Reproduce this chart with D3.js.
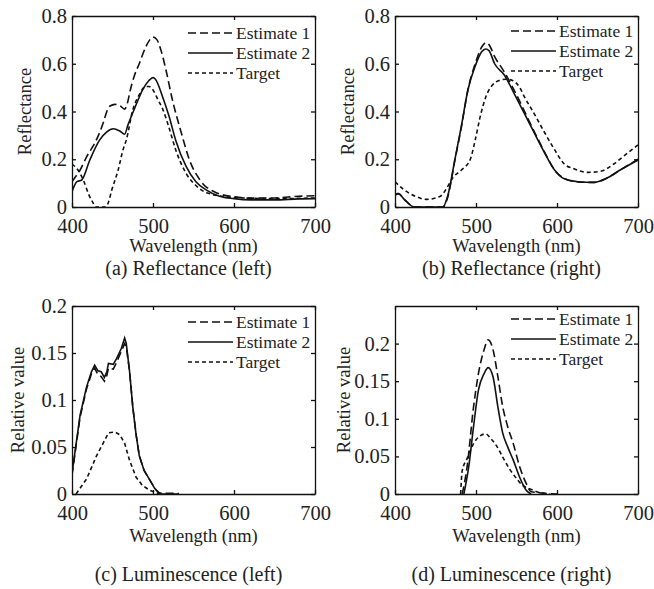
<!DOCTYPE html>
<html>
<head>
<meta charset="utf-8">
<script src="https://cdn.jsdelivr.net/npm/d3@7"></script>
<style>
  html, body { margin: 0; padding: 0; background: #fff; }
  svg { display: block; }
</style>
</head>
<body>
<svg id="chart" width="654" height="589"></svg>
<script>
// ---------------- DATA ----------------
const seriesNames = ["Estimate 1", "Estimate 2", "Target"];
const xTicks = [400, 500, 600, 700];
const reflTicks = [0, 0.2, 0.4, 0.6, 0.8];
const lumTicks = [0, 0.05, 0.1, 0.15, 0.2];

// (a) Reflectance (left)
const reflLeftEst1Wl = [400,405,410,418,430,439,443,447,453,459,465,468,472,477,483,491,496,500,505,510,516,524,535,545,558,578,600,620,650,680,700];
const reflLeftEst1 = [0.106,0.13,0.155,0.21,0.28,0.357,0.40,0.423,0.43,0.425,0.41,0.43,0.49,0.55,0.60,0.67,0.70,0.712,0.70,0.655,0.574,0.448,0.31,0.197,0.113,0.06,0.043,0.037,0.038,0.045,0.047];
const reflLeftEst2Wl = [400,406,412,422,434,443,451,459,465,469,479,487,495,500,503,512,520,528,541,553,566,582,600,620,650,680,700];
const reflLeftEst2 = [0.064,0.106,0.113,0.197,0.28,0.315,0.328,0.318,0.305,0.343,0.427,0.49,0.53,0.542,0.535,0.46,0.378,0.28,0.169,0.106,0.071,0.045,0.035,0.03,0.03,0.034,0.035];
const reflLeftTargetWl = [400,405,414,421,426,429,441,445,449,457,463,467,475,483,491,495,500,506,512,520,528,541,553,566,600,650,700];
const reflLeftTarget = [0.18,0.165,0.113,0.05,0.017,0,0,0.02,0.07,0.155,0.24,0.28,0.406,0.47,0.505,0.505,0.49,0.45,0.41,0.33,0.24,0.14,0.09,0.06,0.04,0.035,0.038];

// (b) Reflectance (right)
const reflRightEstWl = [400,404,412,424,459,465,474,482,490,499,507,512,516,523,535,547,560,572,585,597,609,626,645,661,678,700];
const reflRightEst1 = [0.05,0.056,0.03,0,0,0.04,0.197,0.336,0.49,0.6,0.67,0.688,0.68,0.63,0.565,0.49,0.4,0.315,0.228,0.155,0.12,0.105,0.103,0.12,0.155,0.2];
const reflRightEst2 = [0.05,0.056,0.03,0,0,0.045,0.2,0.34,0.49,0.59,0.65,0.662,0.655,0.60,0.553,0.476,0.39,0.31,0.225,0.155,0.118,0.106,0.103,0.12,0.155,0.197];
const reflRightTargetWl = [400,410,425,439,456,464,472,482,493,499,506,512,520,529,537,545,554,560,572,585,597,609,621,638,654,670,685,700];
const reflRightTarget = [0.106,0.075,0.045,0.032,0.045,0.08,0.125,0.155,0.2,0.28,0.39,0.46,0.51,0.53,0.535,0.53,0.5,0.46,0.39,0.31,0.24,0.18,0.16,0.145,0.15,0.18,0.22,0.26];

// (c) Luminescence (left)
const lumLeftEstWl = [400,410,418,424,428,432,436,440,443,445,451,455,461,465,467,471,475,479,483,489,496,502,508,532];
const lumLeftEst1 = [0.02,0.082,0.112,0.128,0.134,0.127,0.125,0.12,0.126,0.134,0.133,0.14,0.152,0.16,0.157,0.131,0.093,0.064,0.041,0.025,0.015,0.006,0.001,0.0005];
const lumLeftEst2 = [0.022,0.084,0.114,0.13,0.137,0.131,0.13,0.124,0.13,0.139,0.138,0.144,0.155,0.166,0.16,0.131,0.093,0.064,0.041,0.025,0.015,0.006,0,0];
const lumLeftTargetWl = [405,418,430,439,445,453,459,465,471,479,487,496,504,512];
const lumLeftTarget = [0,0.016,0.04,0.055,0.065,0.066,0.063,0.054,0.036,0.018,0.009,0.004,0.001,0];

// (d) Luminescence (right)
const lumRightEst1Wl = [483,489,497,503,510,515,521,527,533,539,546,554,562,568,600];
const lumRightEst1 = [0,0.036,0.116,0.16,0.192,0.205,0.192,0.156,0.116,0.09,0.067,0.036,0.014,0.003,0];
const lumRightEst2Wl = [485,491,497,503,510,515,521,527,533,539,546,554,562,568];
const lumRightEst2 = [0,0.036,0.09,0.138,0.16,0.168,0.156,0.116,0.081,0.063,0.045,0.022,0.005,0];
const lumRightTargetWl = [481,483,489,497,506,512,518,526,533,541,549,558,566,578,591];
const lumRightTarget = [0,0.031,0.047,0.067,0.078,0.08,0.074,0.063,0.049,0.034,0.022,0.011,0.007,0.002,0];

const captions = ["(a) Reflectance (left)", "(b) Reflectance (right)", "(c) Luminescence (left)", "(d) Luminescence (right)"];

// ---------------- LAYOUT ----------------
const FONT = '"Liberation Serif", "Times New Roman", Times, "DejaVu Serif", serif';
const zip = (xs, ys) => xs.map((x, i) => [x, ys[i]]);
const dashStyles = ["8,4", null, "4,3"];

const panels = [
  { box: [72, 315, 16, 207], yMax: 0.8, yTicks: reflTicks, yLabel: "Reflectance", yLabelX: 25,
    series: [zip(reflLeftEst1Wl, reflLeftEst1), zip(reflLeftEst2Wl, reflLeftEst2), zip(reflLeftTargetWl, reflLeftTarget)],
    curve: d3.curveMonotoneX, legTop: 17, capY: 275, xlabY: 45, cap: captions[0] },
  { box: [395, 638, 16, 207], yMax: 0.8, yTicks: reflTicks, yLabel: "Reflectance", yLabelX: 348,
    series: [zip(reflRightEstWl, reflRightEst1), zip(reflRightEstWl, reflRightEst2), zip(reflRightTargetWl, reflRightTarget)],
    curve: d3.curveMonotoneX, legTop: 15, capY: 275, xlabY: 45, cap: captions[1] },
  { box: [72, 315, 306, 494], yMax: 0.2, yTicks: lumTicks, yLabel: "Relative value", yLabelX: 18,
    series: [zip(lumLeftEstWl, lumLeftEst1), zip(lumLeftEstWl, lumLeftEst2), zip(lumLeftTargetWl, lumLeftTarget)],
    curve: d3.curveLinear, legTop: 16, capY: 581, xlabY: 48, cap: captions[2] },
  { box: [395, 638, 306, 494], yMax: 0.25, yTicks: lumTicks, yLabel: "Relative value", yLabelX: 344,
    series: [zip(lumRightEst1Wl, lumRightEst1), zip(lumRightEst2Wl, lumRightEst2), zip(lumRightTargetWl, lumRightTarget)],
    curve: d3.curveMonotoneX, legTop: 13, capY: 581, xlabY: 48, cap: captions[3] }
];

const svg = d3.select("#chart").attr("font-family", FONT);
const fmt = v => String(v);

function txt(sel) {
  return sel.attr("font-family", FONT).style("font-family", FONT).attr("fill", "#222");
}

panels.forEach((p, idx) => {
  const [L, R, T, B] = p.box;
  const x = d3.scaleLinear().domain([400, 700]).range([L, R]);
  const y = d3.scaleLinear().domain([0, p.yMax]).range([B, T]);
  const g = svg.append("g");

  const clipId = "clip" + idx;
  g.append("clipPath").attr("id", clipId).append("rect")
    .attr("x", L).attr("y", T - 1).attr("width", R - L).attr("height", B - T + 1);

  const styleAxis = sel => {
    sel.attr("font-family", FONT);
    sel.select(".domain").attr("stroke", "#111").attr("stroke-width", 1.3);
    sel.selectAll(".tick line").attr("stroke", "#111").attr("stroke-width", 1.3);
    txt(sel.selectAll("text"));
  };
  g.append("g").attr("transform", `translate(0,${B})`)
    .call(d3.axisBottom(x).tickValues(xTicks).tickSize(-4).tickSizeOuter(0).tickPadding(11).tickFormat(fmt))
    .call(styleAxis).selectAll("text").attr("font-size", 20.5);
  g.append("g").attr("transform", `translate(0,${T})`)
    .call(d3.axisTop(x).tickValues(xTicks).tickSize(-4).tickSizeOuter(0).tickFormat(""))
    .call(styleAxis);
  g.append("g").attr("transform", `translate(${L},0)`)
    .call(d3.axisLeft(y).tickValues(p.yTicks).tickSize(-4).tickSizeOuter(0).tickPadding(5).tickFormat(fmt))
    .call(styleAxis).selectAll("text").attr("font-size", 20.5);
  g.append("g").attr("transform", `translate(${R},0)`)
    .call(d3.axisRight(y).tickValues(p.yTicks).tickSize(-4).tickSizeOuter(0).tickFormat(""))
    .call(styleAxis);

  const line = d3.line().x(d => x(d[0])).y(d => y(d[1])).curve(p.curve);
  const lg = g.append("g").attr("clip-path", `url(#${clipId})`);
  p.series.forEach((s, i) => {
    lg.append("path").datum(s)
      .attr("d", line)
      .attr("fill", "none")
      .attr("stroke", "#111")
      .attr("stroke-width", 1.6)
      .attr("stroke-dasharray", dashStyles[i]);
  });

  seriesNames.forEach((name, i) => {
    const ly = T + p.legTop + i * 20;
    g.append("line")
      .attr("x1", R - 127).attr("x2", R - 82).attr("y1", ly).attr("y2", ly)
      .attr("stroke", "#111").attr("stroke-width", 1.6)
      .attr("stroke-dasharray", dashStyles[i]);
    txt(g.append("text")).attr("x", R - 79).attr("y", ly).attr("dy", "0.35em")
      .attr("font-size", 17.5).text(name);
  });

  txt(g.append("text")).attr("x", (L + R) / 2).attr("y", B + p.xlabY)
    .attr("text-anchor", "middle").attr("font-size", 18.5).text("Wavelength (nm)");
  txt(g.append("text"))
    .attr("transform", `translate(${p.yLabelX},${(T + B) / 2}) rotate(-90)`)
    .attr("text-anchor", "middle").attr("dy", "0.35em")
    .attr("font-size", 18.5).text(p.yLabel);

  txt(g.append("text")).attr("x", (L + R) / 2 - 5).attr("y", p.capY)
    .attr("text-anchor", "middle").attr("font-size", 20).text(p.cap);
});
</script>
</body>
</html>
